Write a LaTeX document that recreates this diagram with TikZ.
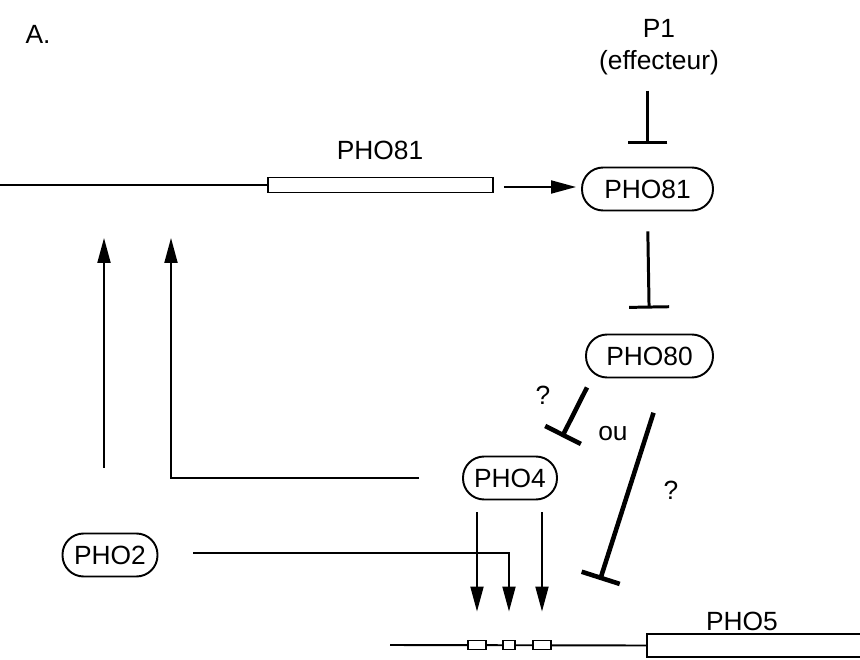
\documentclass[tikz,border=0pt]{standalone}
\usepackage{fontspec}
\setmainfont{Liberation Sans}
\usetikzlibrary{positioning, arrows.meta}

\begin{document}
\begin{tikzpicture}[x=0.02cm, y=-0.02cm, line width=1.1pt,
  prot/.style={draw, rounded corners=12pt, minimum height=0.86cm, inner xsep=2pt,
               font=\fontsize{15}{18}\selectfont},
  lbl/.style={font=\fontsize{15}{18}\selectfont},
  act/.style={-{Triangle[length=5mm, width=2.6mm]}},
  inhib/.style={-{Bar[width=8mm]}, line width=1.7pt},
  genebox/.style={draw, inner sep=0pt, fill=white}]
  \useasboundingbox (0,0) rectangle (860,660);

  % labels and proteins
  \node[lbl] (lettre) at (38,34) {A.};
  \node[lbl, align=center, inner sep=0pt] (p1) at (659,47) {P1\\(effecteur)};
  \node[prot, minimum width=2.62cm] (pho81) at (647.5,189) {PHO81};
  \node[prot, minimum width=2.54cm] (pho80) at (649.5,356) {PHO80};
  \node[prot, minimum width=1.88cm] (pho4) at (510,478) {PHO4};
  \node[prot, minimum width=1.90cm] (pho2) at (110,555) {PHO2};

  % gene PHO81
  \coordinate (debut81) at (0,185);
  \node[genebox, minimum width=4.5cm, minimum height=0.3cm] (g81) at (380.5,185) {};
  \draw (debut81) -- (g81.west);
  \node[lbl] (nom81) at (380,150) {PHO81};

  % gene PHO5 with its promoter sites
  \coordinate (debut5) at (390,645);
  \node[genebox, minimum width=4.6cm, minimum height=0.46cm] (g5) at (762,645.5) {};
  \draw (debut5) -- (g5.west);
  \node[genebox, minimum width=0.36cm, minimum height=0.18cm] (b1) at (477,645) {};
  \node[genebox, minimum width=0.24cm, minimum height=0.18cm] (b2) at (509,645) {};
  \node[genebox, minimum width=0.36cm, minimum height=0.18cm] (b3) at (542,645) {};
  \node[lbl] (nom5) at (742,621) {PHO5};

  % activations
  \draw[act, shorten <=0.2cm, shorten >=0.1cm] ([yshift=-0.04cm]g81.east) -- ([yshift=-0.04cm]g81.east -| pho81.west);
  \draw[act, shorten <=1.3cm, shorten >=1.06cm] ([xshift=-0.12cm]pho2.north) -- ([xshift=-0.12cm]pho2.north |- debut81);
  \draw[act, shorten <=0.86cm, shorten >=1.06cm] (pho4.west) -| (debut81 -| 171,0);
  \draw[act, shorten <=0.7cm, shorten >=0.56cm] ([yshift=0.04cm]pho2.east) -| (b2.north);
  \draw[act, shorten <=0.24cm, shorten >=0.56cm] (pho4.south -| b1) -- (b1.north);
  \draw[act, shorten <=0.24cm, shorten >=0.56cm] (pho4.south -| b3) -- (b3.north);

  % inhibitions
  \draw[inhib, shorten <=0.3cm, shorten >=0.46cm] (pho81 |- p1.south) -- (pho81.north);
  \draw[inhib, shorten <=0.4cm, shorten >=0.5cm] (pho81.south) -- (pho80.north);
  \coordinate (cible1) at (562,437);
  \coordinate (cible2) at (600,580);
  \draw[inhib, line width=2.6pt, shorten <=0.2cm] ([xshift=-1.16cm]pho80.south) -- (cible1);
  \draw[inhib, line width=2.6pt, shorten <=0.72cm] ([xshift=0.3cm]pho80.south) -- (cible2);
  \node[lbl] (q1) at (543,395) {?};
  \node[lbl] (ou) at (613,434) {ou};
  \node[lbl] (q2) at (671,490) {?};
\end{tikzpicture}
\end{document}
